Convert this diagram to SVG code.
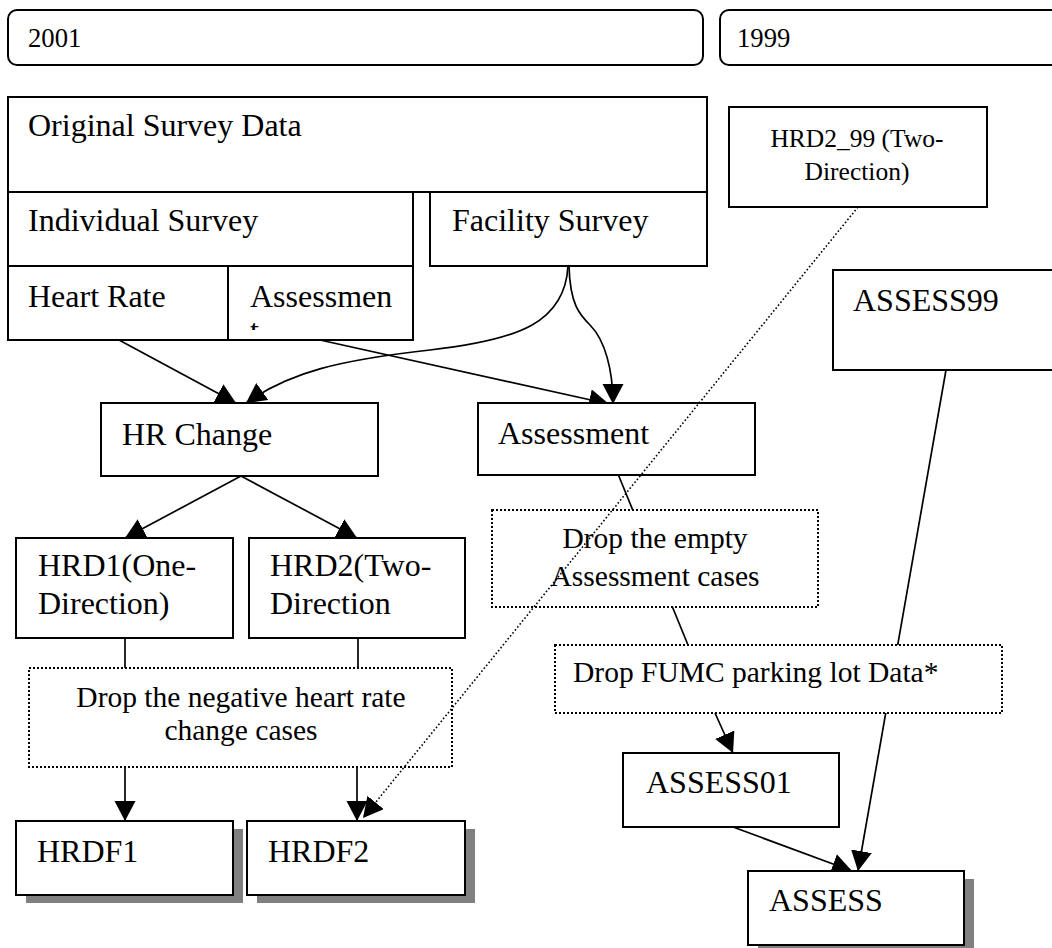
<svg xmlns="http://www.w3.org/2000/svg" width="1052" height="948" viewBox="0 0 1052 948">
<style>
text{font-family:"Liberation Serif","Times New Roman",serif;fill:#000}
.t32{font-size:32px}
.t29{font-size:29.5px}
.t27{font-size:26.7px}
.t24{font-size:25.5px}
.box{fill:#fff;stroke:#000;stroke-width:2}
.dot{fill:#fff;stroke:#000;stroke-width:2;stroke-dasharray:2 2}
.sh{fill:#808080}
.ln{fill:none;stroke:#000;stroke-width:1.7}
.dl{fill:none;stroke:#000;stroke-width:1.6;stroke-dasharray:1.6 2.2}
.mid{text-anchor:middle}
</style>
<defs>
<marker id="ah" markerUnits="userSpaceOnUse" markerWidth="21" markerHeight="22" refX="20" refY="10.5" orient="auto" viewBox="0 0 21 22">
<path d="M0,0 L20,10.5 L0,21 z" fill="#000"/>
</marker>
<clipPath id="clipA"><rect x="228" y="266" width="185" height="64"/></clipPath>
</defs>

<g id="connectors">
<path class="ln" d="M119,340 L236,403" marker-end="url(#ah)"/>
<path class="ln" d="M568,266 C565,322 520,340 430,350 C340,360 290,372 246,403" marker-end="url(#ah)"/>
<path class="ln" d="M569,266 C570,305 580,315 590,325 C605,340 613,370 613,404" marker-end="url(#ah)"/>
<path class="ln" d="M320,340 L609,404" marker-end="url(#ah)"/>
<path class="ln" d="M241,476 L125,538" marker-end="url(#ah)"/>
<path class="ln" d="M241,476 L357,538" marker-end="url(#ah)"/>
<path class="ln" d="M125,638 L125,668"/>
<path class="ln" d="M358,638 L358,668"/>
<path class="ln" d="M125,767 L125,821" marker-end="url(#ah)"/>
<path class="ln" d="M357,767 L357,821" marker-end="url(#ah)"/>
<path class="ln" d="M618,474 L688,645"/>
<path class="ln" d="M715,713 L733,753" marker-end="url(#ah)"/>
<path class="ln" d="M733,827 L852,871" marker-end="url(#ah)"/>
<path class="ln" d="M946,370 L858,871" marker-end="url(#ah)"/>
</g>

<g id="y2001">
<rect class="box" x="8" y="10" width="695" height="55" rx="9"/>
<text class="t27" x="28" y="47">2001</text>
</g>
<g id="y1999">
<rect class="box" x="720" y="10" width="345" height="55" rx="9"/>
<text class="t27" x="737" y="47">1999</text>
</g>

<g id="original-survey">
<rect class="box" x="8" y="97" width="699" height="95"/>
<text class="t32" x="28" y="136">Original Survey Data</text>
</g>
<g id="individual-survey">
<rect class="box" x="8" y="192" width="405" height="74"/>
<text class="t32" x="28" y="231">Individual Survey</text>
</g>
<g id="facility-survey">
<rect class="box" x="430" y="192" width="277" height="74"/>
<text class="t32" x="452" y="231">Facility Survey</text>
</g>
<g id="heart-rate">
<rect class="box" x="8" y="266" width="220" height="74"/>
<text class="t32" x="28" y="307">Heart Rate</text>
</g>
<g id="assessmen">
<rect class="box" x="228" y="266" width="185" height="74"/>
<text class="t32" x="250" y="307">Assessmen</text>
<text class="t32" x="250" y="341" clip-path="url(#clipA)">t</text>
</g>

<g id="hrd2-99">
<rect class="box" x="729" y="107" width="258" height="100"/>
<text class="t24 mid" x="857" y="147">HRD2_99 (Two-</text>
<text class="t24 mid" x="857" y="180">Direction)</text>
</g>

<g id="assess99">
<rect class="box" x="833" y="270" width="230" height="100"/>
<text class="t32" x="853" y="311">ASSESS99</text>
</g>

<g id="hr-change">
<rect class="box" x="101" y="403" width="277" height="73"/>
<text class="t32" x="122" y="445">HR Change</text>
</g>
<g id="assessment">
<rect class="box" x="478" y="403" width="277" height="72"/>
<text class="t32" x="498" y="444">Assessment</text>
</g>

<g id="hrd1">
<rect class="box" x="16" y="538" width="217" height="100"/>
<text class="t32" x="38" y="576">HRD1(One-</text>
<text class="t32" x="38" y="614">Direction)</text>
</g>
<g id="hrd2">
<rect class="box" x="249" y="538" width="216" height="100"/>
<text class="t32" x="270" y="576">HRD2(Two-</text>
<text class="t32" x="270" y="614">Direction</text>
</g>

<g id="drop-empty">
<rect class="dot" x="492" y="510" width="326" height="97"/>
<text class="t29 mid" x="655" y="548">Drop the empty</text>
<text class="t29 mid" x="655" y="586">Assessment cases</text>
</g>

<g id="drop-negative">
<rect class="dot" x="29" y="668" width="423" height="99"/>
<text class="t29 mid" x="241" y="707">Drop the negative heart rate</text>
<text class="t29 mid" x="241" y="740">change cases</text>
</g>

<g id="drop-fumc">
<rect class="dot" x="555" y="645" width="447" height="68"/>
<text class="t29" x="573" y="682">Drop FUMC parking lot Data*</text>
</g>

<g id="assess01">
<rect class="box" x="623" y="753" width="216" height="74"/>
<text class="t32" x="646" y="793">ASSESS01</text>
</g>

<g id="hrdf1">
<rect class="sh" x="26" y="829" width="217" height="74"/>
<rect class="box" x="16" y="821" width="217" height="74"/>
<text class="t32" x="37" y="862">HRDF1</text>
</g>
<g id="hrdf2">
<rect class="sh" x="257" y="829" width="218" height="74"/>
<rect class="box" x="247" y="821" width="218" height="74"/>
<text class="t32" x="268" y="862">HRDF2</text>
</g>
<g id="assess">
<rect class="sh" x="758" y="879" width="216" height="74"/>
<rect class="box" x="748" y="871" width="216" height="74"/>
<text class="t32" x="769" y="911">ASSESS</text>
</g>

<g id="dotted-connector">
<path class="dl" d="M858,207 L363,818" marker-end="url(#ah)"/>
</g>
</svg>
